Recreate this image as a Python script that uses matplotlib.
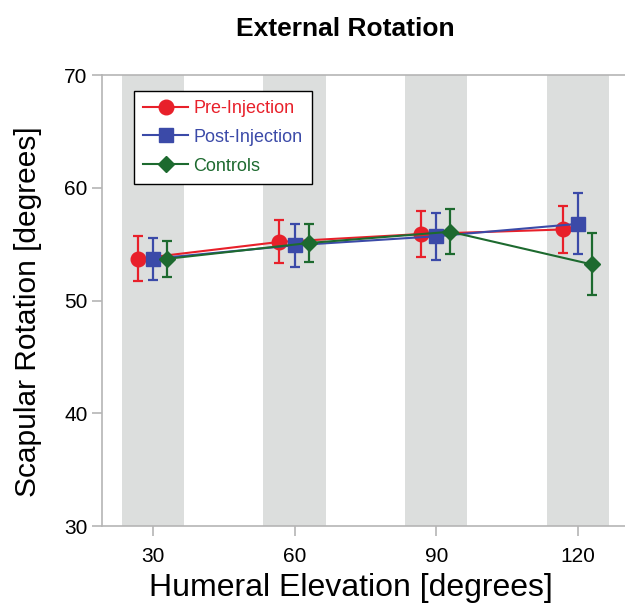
import numpy as np
import matplotlib
matplotlib.use("Agg")
import matplotlib.pyplot as plt

plt.rcParams['font.family'] = ['Liberation Sans', 'DejaVu Sans']

# data
elevation = [30, 60, 90, 120]
pre_mean = [53.7, 55.2, 55.9, 56.3]
pre_err = [2.0, 1.9, 2.0, 2.1]
post_mean = [53.7, 54.9, 55.7, 56.8]
post_err = [1.85, 1.9, 2.1, 2.7]
ctrl_mean = [53.7, 55.1, 56.1, 53.2]
ctrl_err = [1.6, 1.7, 2.0, 2.75]

fig = plt.figure(figsize=(6.25, 6.07), dpi=100)
ax = fig.add_axes([0.1632, 0.1334, 0.8368, 0.743])

x = np.array(elevation)

# gray bands behind each elevation
for xe in elevation:
    ax.axvspan(xe - 6.6, xe + 6.6, color="#dcdedd", lw=0, zorder=0)

series = [
    ("Pre-Injection", pre_mean, pre_err, "#e8202a", "o", 10.5, -3.2),
    ("Post-Injection", post_mean, post_err, "#3b4aa8", "s", 10.5, 0),
    ("Controls", ctrl_mean, ctrl_err, "#1d6a2f", "D", 8.5, 3.0),
]
handles = []
for name, m, e, c, mk, ms, off in series:
    cont = ax.errorbar(x + off, m, yerr=e, color=c, marker=mk, markersize=ms,
                       lw=1.5, elinewidth=1.6, capsize=3.3, capthick=1.6,
                       label=name, zorder=3)
    handles.append(cont.lines[0])

ax.set_xlim(19.2, 130)
ax.set_ylim(30, 70)
ax.set_xticks(elevation)
ax.set_yticks([30, 40, 50, 60, 70])

for s in ["left", "bottom", "top"]:
    ax.spines[s].set_color("#b5b5b5")
    ax.spines[s].set_linewidth(1.2)
ax.spines["right"].set_visible(False)
ax.tick_params(axis="both", colors="#b5b5b5", labelcolor="black",
               labelsize=15, length=7, width=1.2)
ax.tick_params(axis="x", pad=8)

leg = ax.legend(handles=handles, labels=[s[0] for s in series],
                loc="upper left", bbox_to_anchor=(0.061, 0.9645), fontsize=13,
                frameon=True, fancybox=False, edgecolor="black",
                borderpad=0.5, labelspacing=0.65, handlelength=2.5,
                handletextpad=0.3, borderaxespad=0, framealpha=1)
leg.get_frame().set_linewidth(1.0)
for txt, s in zip(leg.get_texts(), series):
    txt.set_color(s[3])

fig.text(345 / 625, 1 - 28.5 / 607, "External Rotation", ha="center", va="center",
         fontsize=19, fontweight="bold")
fig.text(351 / 625, 1 - 588 / 607, "Humeral Elevation [degrees]", ha="center",
         va="center", fontsize=23)
fig.text(28 / 625, 1 - 312 / 607, "Scapular Rotation [degrees]", ha="center",
         va="center", fontsize=21.5, rotation=90)

plt.savefig("out.png", dpi=100)
